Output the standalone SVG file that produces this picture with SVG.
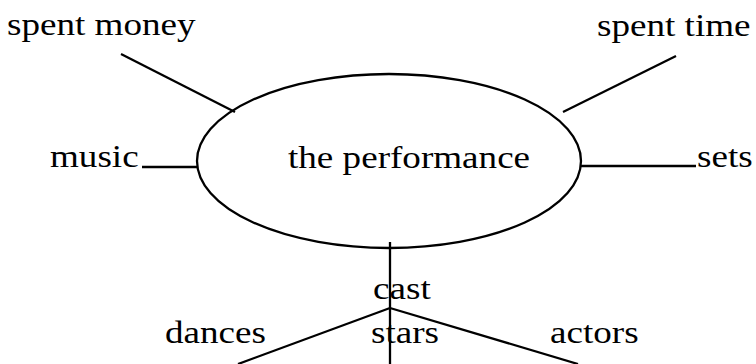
<svg xmlns="http://www.w3.org/2000/svg" width="756" height="364" viewBox="0 0 756 364">
<style>
text{font-family:"Liberation Serif","Times New Roman",serif;font-size:32px;fill:#000}
.ln{stroke:#000;stroke-width:2.3;fill:none}
</style>
<rect width="756" height="364" fill="#fff"/>
<g id="connectors">
<line class="ln" x1="121" y1="54" x2="235" y2="112"/>
<line class="ln" x1="676" y1="56" x2="563" y2="112"/>
<line class="ln" x1="142" y1="167" x2="197" y2="167"/>
<line class="ln" x1="581" y1="166" x2="696" y2="166"/>
<line class="ln" x1="390" y1="242" x2="390" y2="364"/>
<line class="ln" x1="390" y1="308" x2="238" y2="364"/>
<line class="ln" x1="390" y1="308" x2="578" y2="364"/>
</g>
<g id="performance">
<ellipse class="ln" cx="389" cy="161" rx="192" ry="87"/>
<text transform="translate(288 168) scale(1.16 1)">the performance</text>
</g>
<g id="spent-money"><text transform="translate(7 35) scale(1.16 1)">spent money</text></g>
<g id="spent-time"><text transform="translate(597 36) scale(1.16 1)">spent time</text></g>
<g id="music"><text transform="translate(50 167) scale(1.16 1)">music</text></g>
<g id="sets"><text transform="translate(697 167) scale(1.16 1)">sets</text></g>
<g id="cast"><text transform="translate(373 299) scale(1.16 1)">cast</text></g>
<g id="dances"><text transform="translate(165 343) scale(1.16 1)">dances</text></g>
<g id="stars"><text transform="translate(371 343) scale(1.16 1)">stars</text></g>
<g id="actors"><text transform="translate(550 343) scale(1.16 1)">actors</text></g>
</svg>
